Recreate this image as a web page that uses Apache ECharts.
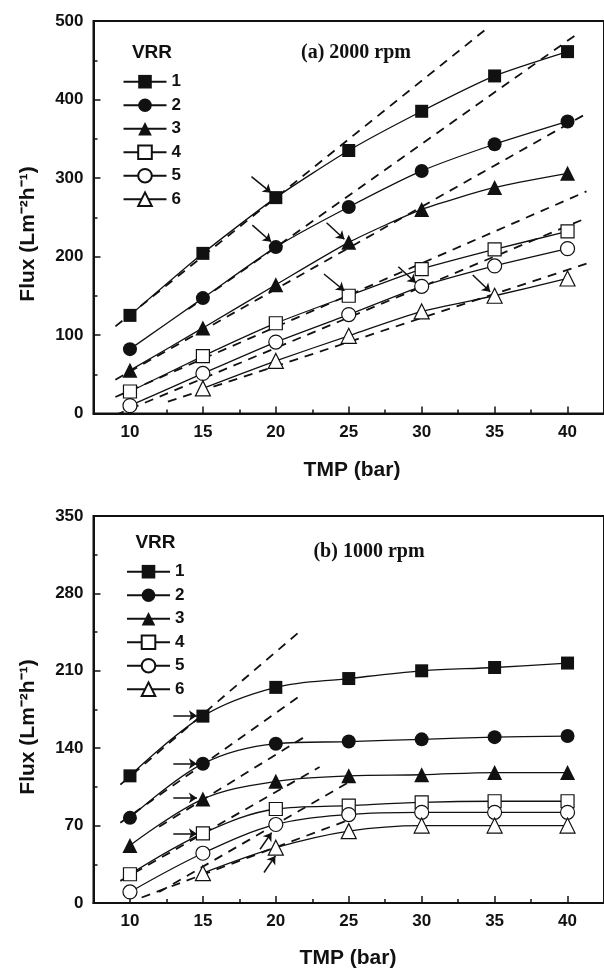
<!DOCTYPE html>
<html><head><meta charset="utf-8">
<script src="https://cdn.jsdelivr.net/npm/echarts@6/dist/echarts.min.js"></script>
<style>html,body{margin:0;padding:0;background:#fff}#c{width:604px;height:971px}</style>
</head><body><div id="c"></div>
<script>
// ---- data ----
const tmp = [10, 15, 20, 25, 30, 35, 40];
const names = ['1', '2', '3', '4', '5', '6'];
// (a) 2000 rpm
const a1 = [125, 204, 275, 335, 385, 430, 461];
const a2 = [82, 147, 212, 263, 309, 343, 372];
const a3 = [55, 109, 164, 218, 260, 288, 306];
const a4 = [28, 73, 115, 150, 184, 209, 232];
const a5 = [10, 51, 91, 126, 162, 188, 210];
const a6 = [null, 32, 67, 99, 130, 150, 172];
// (b) 1000 rpm
const b1 = [115, 169, 195, 203, 210, 213, 217];
const b2 = [77, 126, 144, 146, 148, 150, 151];
const b3 = [52, 94, 110, 115, 116, 118, 118];
const b4 = [26, 63, 85, 88, 91, 92, 92];
const b5 = [10, 45, 71, 80, 82, 82, 82];
const b6 = [null, 27, 50, 65, 70, 70, 70];
// tangent (dashed) lines: [x1, y1, x2, y2]
const aTangents = [[9, 111, 34.3, 488], [14, 133, 40.7, 484], [9, 43, 41.3, 382], [9, 21, 41.3, 283], [9, -2, 41.3, 249], [12.6, 15, 41.3, 191]];
const bTangents = [[9.34, 107, 21.68, 246], [9.34, 72.6, 21.73, 188], [12, 69, 21.94, 150], [9.34, 20, 23, 123], [12, 10, 25.1, 110], [10.8, 5, 25.1, 75.6]];
// arrows: [x1, y1, x2, y2]
const aArrows = [[18.33, 301.7, 19.68, 281.3], [18.39, 240, 19.68, 218.8], [23.48, 243, 24.7, 222], [23.3, 177.7, 24.7, 156.4], [28.4, 187, 29.6, 166.6], [33.5, 176.4, 34.7, 155]];
const bArrows = [[12.97, 169.4, 14.59, 169.4], [12.97, 126, 14.59, 126], [12.97, 95, 14.59, 95], [12.97, 62.7, 14.59, 62.7], [18.92, 48.6, 19.71, 63.6], [19.19, 27.6, 19.97, 42.6]];
const xMajor = [10, 15, 20, 25, 30, 35, 40];
const xMinor = [12.5, 17.5, 22.5, 27.5, 32.5, 37.5];

// ---- chart ----
const SANS = 'Liberation Sans';
const symbols = ['rect', 'circle', 'triangle', 'rect', 'circle', 'triangle'];
const filled = [true, true, true, false, false, false];
const sizes = [13, 14, 15, 13, 14, 15];

function dataSeries(vals, gi, smooth) {
  return vals.map((v, i) => ({
    name: names[i], type: 'line', xAxisIndex: gi * 2, yAxisIndex: gi,
    data: tmp.map((t, k) => [t, v[k]]),
    smooth: smooth,
    symbol: symbols[i], symbolSize: sizes[i], showAllSymbol: true,
    lineStyle: { color: '#111', width: 1.3 },
    itemStyle: { color: filled[i] ? '#111' : '#fff', borderColor: '#111', borderWidth: filled[i] ? 0 : 1.2 },
    z: 5, animation: false
  }));
}
function tangentSeries(list, gi) {
  return list.map(t => ({
    type: 'line', xAxisIndex: gi * 2, yAxisIndex: gi, data: [[t[0], t[1]], [t[2], t[3]]],
    symbol: 'none', lineStyle: { color: '#111', width: 1.8, type: [9, 7] }, z: 3, animation: false, silent: true
  }));
}
function arrowSeries(list, gi) {
  return {
    type: 'lines', coordinateSystem: 'cartesian2d', xAxisIndex: gi * 2, yAxisIndex: gi,
    data: list.map(a => ({ coords: [[a[0], a[1]], [a[2], a[3]]] })),
    symbol: ['none', 'arrow'], symbolSize: 8,
    lineStyle: { color: '#111', width: 1.5, opacity: 1, curveness: 0 }, z: 6, animation: false, silent: true
  };
}
const grids = [
  { left: 93.5, top: 21, width: 518, height: 392.5 },
  { left: 93.5, top: 516, width: 513.4, height: 387 }
];
const axisLbl = { fontFamily: SANS, fontWeight: 'bold', fontSize: 17, color: '#111' };
function xAxes(gi) {
  return [
    { type: 'value', gridIndex: gi, min: 7.5, max: 42.5, position: 'bottom',
      axisLine: { lineStyle: { color: '#111', width: 2 } },
      axisTick: { inside: true, length: 7, customValues: xMajor, lineStyle: { color: '#111', width: 1.5 } },
      axisLabel: Object.assign({ margin: 10, customValues: xMajor }, axisLbl),
      splitLine: { show: false } },
    { type: 'value', gridIndex: gi, min: 7.5, max: 42.5, position: 'bottom',
      axisLine: { show: false },
      axisTick: { inside: true, length: 4, customValues: xMinor, lineStyle: { color: '#111', width: 1.5 } },
      axisLabel: { show: false }, splitLine: { show: false } }
  ];
}
function yAxis(gi, max, interval) {
  return { type: 'value', gridIndex: gi, min: 0, max: max, interval: interval,
    axisLine: { show: true, lineStyle: { color: '#111', width: 2 } },
    axisTick: { inside: true, length: 7, lineStyle: { color: '#111', width: 1.5 } },
    minorTick: { show: true, splitNumber: 2, length: 4, lineStyle: { color: '#111', width: 1.5 } },
    axisLabel: Object.assign({ margin: 10 }, axisLbl),
    splitLine: { show: false } };
}
function legend(top, left) {
  return { data: names, orient: 'vertical', left: left, top: top, padding: 0, itemWidth: 43, itemHeight: 17, itemGap: 6.5,
    textStyle: { fontFamily: SANS, fontWeight: 'bold', fontSize: 17, color: '#111', lineHeight: 17 },
    selectedMode: false, inactiveColor: '#111' };
}
function txt(x, y, text, font, rot) {
  return { type: 'text', x: x, y: y, rotation: rot || 0, silent: true,
    style: { text: text, font: font, fill: '#111', align: 'center', verticalAlign: 'middle' } };
}
const option = {
  backgroundColor: '#fff',
  animation: false,
  grid: grids.map(g => Object.assign({ show: true, borderColor: '#111', borderWidth: 2, backgroundColor: 'transparent' }, g)),
  xAxis: xAxes(0).concat(xAxes(1)),
  yAxis: [yAxis(0, 500, 100), yAxis(1, 350, 70)],
  legend: [legend(73.2, 122.5), legend(563.2, 126)],
  series: [].concat(
    tangentSeries(aTangents, 0), tangentSeries(bTangents, 1),
    dataSeries([a1, a2, a3, a4, a5, a6], 0, 0.2),
    dataSeries([b1, b2, b3, b4, b5, b6], 1, 0.35),
    [arrowSeries(aArrows, 0), arrowSeries(bArrows, 1)]
  ),
  graphic: [
    txt(152, 53, 'VRR', 'bold 19px "Liberation Sans"'),
    txt(155.5, 543, 'VRR', 'bold 19px "Liberation Sans"'),
    txt(356, 53, '(a) 2000 rpm', 'bold 20px "Liberation Serif"'),
    txt(369, 552, '(b) 1000 rpm', 'bold 20px "Liberation Serif"'),
    txt(352, 470, 'TMP (bar)', 'bold 21px "Liberation Sans"'),
    txt(348, 958, 'TMP (bar)', 'bold 21px "Liberation Sans"'),
    txt(28, 234, 'Flux (Lm\u207B\u00B2h\u207B\u00B9)', 'bold 21px "Liberation Sans"', Math.PI / 2),
    txt(28, 727, 'Flux (Lm\u207B\u00B2h\u207B\u00B9)', 'bold 21px "Liberation Sans"', Math.PI / 2)
  ]
};
const chart = echarts.init(document.getElementById('c'), null, { renderer: 'canvas' });
chart.setOption(option);
</script></body></html>
